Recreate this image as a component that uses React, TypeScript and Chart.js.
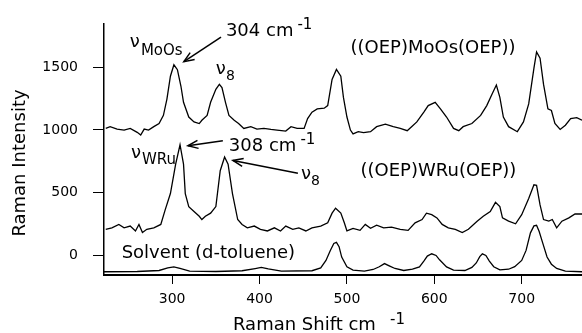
import React, { useEffect, useRef } from 'react';
import { Chart, registerables } from 'chart.js';

Chart.register(...registerables);

// ---- data (Raman shift cm-1, intensity) ----
const moosX = [224, 229, 237, 245, 252, 260, 264, 268, 273, 279, 285, 290, 294, 298, 302, 306, 310, 313, 319, 325, 331, 334, 340, 344, 350, 354, 357, 361, 365, 371, 376, 382, 390, 397, 405, 413, 420, 430, 436, 443, 451, 455, 460, 466, 474, 478, 483, 488, 493, 496, 500, 504, 507, 513, 519, 527, 534, 544, 553, 561, 569, 574, 580, 588, 593, 601, 607, 614, 622, 628, 633, 643, 653, 660, 666, 671, 675, 679, 685, 695, 702, 708, 714, 717, 721, 725, 730, 734, 738, 744, 750, 756, 763, 769];
const moosY = [1012, 1026, 1007, 999, 1012, 981, 960, 1007, 999, 1026, 1051, 1116, 1246, 1428, 1519, 1480, 1350, 1220, 1103, 1064, 1051, 1077, 1116, 1220, 1324, 1363, 1337, 1220, 1116, 1077, 1051, 1012, 1026, 1007, 1012, 1004, 999, 991, 1026, 1012, 1012, 1090, 1142, 1168, 1173, 1194, 1402, 1482, 1428, 1259, 1103, 999, 968, 986, 979, 986, 1026, 1046, 1026, 1012, 994, 1026, 1064, 1142, 1194, 1220, 1168, 1103, 1012, 994, 1026, 1051, 1116, 1194, 1285, 1358, 1259, 1103, 1026, 986, 1064, 1207, 1493, 1622, 1571, 1363, 1168, 1155, 1051, 1004, 1038, 1090, 1098, 1077];

const wruX = [224, 231, 239, 245, 252, 258, 262, 266, 271, 279, 287, 292, 298, 304, 309, 313, 315, 319, 325, 331, 334, 338, 344, 350, 355, 360, 364, 369, 375, 380, 386, 394, 401, 409, 417, 424, 430, 438, 445, 453, 460, 470, 478, 483, 487, 493, 497, 500, 507, 515, 521, 527, 534, 542, 551, 561, 570, 578, 586, 591, 597, 603, 609, 616, 624, 632, 639, 649, 656, 664, 670, 675, 678, 685, 693, 700, 708, 714, 717, 721, 725, 731, 735, 740, 746, 754, 761, 769];
const wruY = [208, 220, 247, 220, 234, 195, 247, 182, 208, 220, 247, 363, 493, 727, 882, 727, 493, 389, 350, 312, 286, 312, 337, 389, 675, 784, 727, 493, 286, 247, 220, 234, 208, 195, 220, 195, 234, 208, 220, 195, 220, 234, 260, 337, 376, 337, 260, 195, 216, 200, 247, 216, 241, 220, 226, 208, 200, 260, 286, 337, 325, 299, 247, 220, 208, 182, 208, 273, 312, 350, 423, 389, 299, 273, 252, 325, 454, 563, 558, 402, 286, 273, 286, 220, 273, 299, 330, 330];

const solvX = [222, 260, 285, 295, 302, 310, 320, 350, 380, 395, 402, 410, 425, 460, 470, 476, 481, 485, 488, 491, 494, 500, 507, 520, 530, 537, 543, 549, 555, 565, 575, 583, 588, 592, 597, 602, 606, 614, 622, 635, 643, 648, 652, 655, 659, 663, 668, 675, 685, 692, 700, 705, 710, 714, 717, 720, 724, 729, 734, 740, 750, 769];
const solvY = [-130, -128, -120, -100, -92, -105, -125, -128, -122, -105, -96, -108, -125, -122, -100, -40, 40, 95, 104, 70, -13, -91, -117, -125, -112, -90, -65, -85, -104, -120, -110, -91, -45, -5, 13, 0, -35, -91, -117, -120, -95, -60, -10, 13, 0, -45, -90, -115, -110, -90, -40, 40, 180, 235, 240, 190, 100, -13, -70, -104, -125, -130];

const xTicks = [300, 400, 500, 600, 700];
const yTicks = [0, 500, 1000, 1500];
const xRange = [222, 769];
const yRange = [-156, 1849];

const FONT = '"DejaVu Sans", sans-serif';

type Piece = { t: string; s: number; gap?: number; dy?: number };
type Label = { x: number; y: number; align: 'left' | 'center'; pieces: Piece[] };

const labels: Label[] = [
  { x: 251.6, y: 1661, align: 'left', pieces: [{ t: 'ν', s: 18 }, { t: 'MoOs', s: 15, gap: 1, dy: 8 }] },
  { x: 361.5, y: 1747, align: 'left', pieces: [{ t: '304 cm', s: 18 }, { t: '-1', s: 15, gap: 4, dy: -7 }] },
  { x: 350, y: 1443, align: 'left', pieces: [{ t: 'ν', s: 18 }, { t: '8', s: 14, gap: 0, dy: 6 }] },
  { x: 598.5, y: 1615, align: 'center', pieces: [{ t: '((OEP)MoOs(OEP))', s: 18 }] },
  { x: 252.8, y: 780, align: 'left', pieces: [{ t: 'ν', s: 18 }, { t: 'WRu', s: 15, gap: 1, dy: 6.5 }] },
  { x: 364.9, y: 835, align: 'left', pieces: [{ t: '308 cm', s: 18 }, { t: '-1', s: 15, gap: 4, dy: -7 }] },
  { x: 447.3, y: 608, align: 'left', pieces: [{ t: 'ν', s: 18 }, { t: '8', s: 14, gap: 0, dy: 6 }] },
  { x: 604.7, y: 632, align: 'center', pieces: [{ t: '((OEP)WRu(OEP))', s: 18 }] },
  { x: 341.4, y: -23, align: 'center', pieces: [{ t: 'Solvent (d-toluene)', s: 18 }] },
];

const arrows: { from: [number, number]; to: [number, number] }[] = [
  { from: [355.9, 1739], to: [313.4, 1544] },
  { from: [358, 913], to: [318, 874] },
  { from: [443.9, 655], to: [369.5, 757] },
];

const toPts = (xs: number[], ys: number[]) => xs.map((x, i) => ({ x, y: ys[i] }));

const annotate = {
  id: 'annotate',
  afterDraw(chart: any) {
    const ctx = chart.ctx as CanvasRenderingContext2D;
    const xs = chart.scales.x;
    const ys = chart.scales.y;
    ctx.save();
    ctx.fillStyle = '#000';
    ctx.strokeStyle = '#000';
    ctx.textBaseline = 'alphabetic';
    ctx.textAlign = 'left';
    for (const l of labels) {
      let px = xs.getPixelForValue(l.x);
      const py = ys.getPixelForValue(l.y);
      if (l.align === 'center') {
        let w = 0;
        l.pieces.forEach((p, i) => {
          ctx.font = `${p.s}px ${FONT}`;
          w += ctx.measureText(p.t).width + (i ? p.gap || 0 : 0);
        });
        px -= w / 2;
      }
      l.pieces.forEach((p, i) => {
        ctx.font = `${p.s}px ${FONT}`;
        if (i) px += p.gap || 0;
        ctx.fillText(p.t, px, py + (p.dy || 0));
        px += ctx.measureText(p.t).width;
      });
    }
    ctx.lineWidth = 1.5;
    for (const a of arrows) {
      const x1 = xs.getPixelForValue(a.from[0]);
      const y1 = ys.getPixelForValue(a.from[1]);
      const x2 = xs.getPixelForValue(a.to[0]);
      const y2 = ys.getPixelForValue(a.to[1]);
      const ang = Math.atan2(y2 - y1, x2 - x1);
      ctx.beginPath();
      ctx.moveTo(x1, y1);
      ctx.lineTo(x2, y2);
      ctx.stroke();
      const L = 11, h = 0.38;
      ctx.beginPath();
      ctx.moveTo(x2 - L * Math.cos(ang - h), y2 - L * Math.sin(ang - h));
      ctx.lineTo(x2, y2);
      ctx.lineTo(x2 - L * Math.cos(ang + h), y2 - L * Math.sin(ang + h));
      ctx.stroke();
    }
    // axis titles
    ctx.font = `18px ${FONT}`;
    ctx.save();
    ctx.translate(25, 163);
    ctx.rotate(-Math.PI / 2);
    ctx.textAlign = 'center';
    ctx.fillText('Raman Intensity', 0, 0);
    ctx.restore();
    ctx.textAlign = 'left';
    ctx.fillText('Raman Shift cm', 233, 330);
    ctx.font = `15px ${FONT}`;
    ctx.fillText('-1', 390, 324);
    ctx.restore();
  },
};

export default function App() {
  const ref = useRef<HTMLCanvasElement>(null);
  useEffect(() => {
    document.body.style.margin = '0';
    const chart = new Chart(ref.current!, {
      type: 'line',
      data: {
        datasets: [
          { data: toPts(moosX, moosY) },
          { data: toPts(wruX, wruY) },
          { data: toPts(solvX, solvY) },
        ].map((d) => ({
          ...d,
          borderColor: '#000',
          borderWidth: 1.3,
          pointRadius: 0,
          tension: 0,
          fill: false,
        })) as any,
      },
      options: {
        animation: false,
        responsive: false,
        layout: { padding: { top: 18, left: 0, right: 0, bottom: 0 } },
        plugins: { legend: { display: false }, tooltip: { enabled: false } },
        scales: {
          x: {
            type: 'linear',
            min: xRange[0],
            max: xRange[1],
            afterBuildTicks: (s: any) => {
              s.ticks = xTicks.map((v) => ({ value: v }));
            },
            afterFit: (s: any) => {
              s.height = 58;
            },
            grid: { drawOnChartArea: false, drawTicks: true, tickLength: 9, color: '#000', lineWidth: 1 },
            border: { display: true, color: '#000', width: 2 },
            ticks: { color: '#000', font: { family: FONT, size: 14 }, padding: 7, maxRotation: 0, callback: (v: any) => String(v) },
          },
          y: {
            type: 'linear',
            min: yRange[0],
            max: yRange[1],
            afterBuildTicks: (s: any) => {
              s.ticks = yTicks.map((v) => ({ value: v }));
            },
            afterFit: (s: any) => {
              s.width = 104;
            },
            grid: { drawOnChartArea: false, drawTicks: true, tickLength: 11, color: '#000', lineWidth: 1 },
            border: { display: true, color: '#000', width: 1.5 },
            ticks: { color: '#000', font: { family: FONT, size: 14 }, padding: 15, callback: (v: any) => String(v) },
          },
        },
      },
      plugins: [annotate],
    });
    return () => chart.destroy();
  }, []);
  return (
    <div style={{ width: 582, height: 333 }}>
      <canvas ref={ref} width={582} height={333} style={{ display: 'block' }} />
    </div>
  );
}
